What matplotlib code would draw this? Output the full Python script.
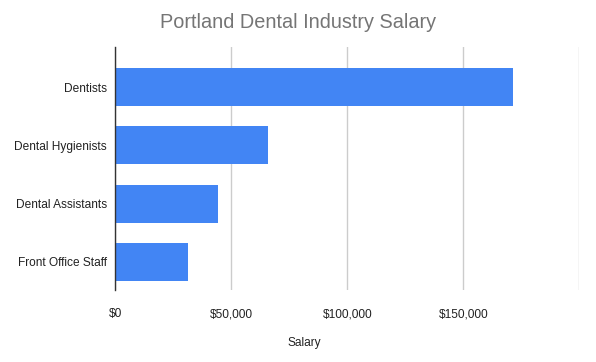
import matplotlib
matplotlib.use("Agg")
import matplotlib.pyplot as plt
from matplotlib.ticker import FuncFormatter

plt.rcParams['font.family'] = ['Liberation Sans', 'DejaVu Sans']

roles = ["Dentists", "Dental Hygienists", "Dental Assistants", "Front Office Staff"]
salaries = [171300, 65700, 44100, 31200]
x_ticks = [0, 50000, 100000, 150000, 200000]

fig = plt.figure(figsize=(5.96, 3.62), dpi=100)
ax = fig.add_axes([0.1935, 0.199, 0.7785, 0.67])

ax.barh(range(len(roles)), salaries, height=0.652, color="#4285f4", zorder=3)

ax.set_yticks(range(len(roles)))
ax.set_yticklabels(roles, fontsize=8.6, color="#222222")
ax.set_ylim(3.483, -0.681)

ax.set_xlim(0, 200000)
ax.set_xticks(x_ticks)
ax.xaxis.set_major_formatter(FuncFormatter(lambda v, p: "" if v >= 200000 else f"${v:,.0f}"))
ax.tick_params(axis="x", length=0, pad=13, labelsize=8.6, labelcolor="#222222")
ax.tick_params(axis="y", length=0, pad=6)
ax.grid(axis="x", color="#cccccc", linewidth=1, zorder=0)

for s in ["top", "right", "bottom"]:
    ax.spines[s].set_visible(False)
ax.spines["left"].set_color("#333333")
ax.spines["left"].set_linewidth(1)
ax.spines["left"].set_zorder(4)

fig.text(0.5, 1 - 22 / 362, "Portland Dental Industry Salary", ha="center", va="center",
         fontsize=14.3, color="#757575")
fig.text(304.7 / 596, 1 - 343 / 362, "Salary", ha="center", va="center",
         fontsize=8.6, color="#222222")

fig.savefig("out.png", dpi=100)
